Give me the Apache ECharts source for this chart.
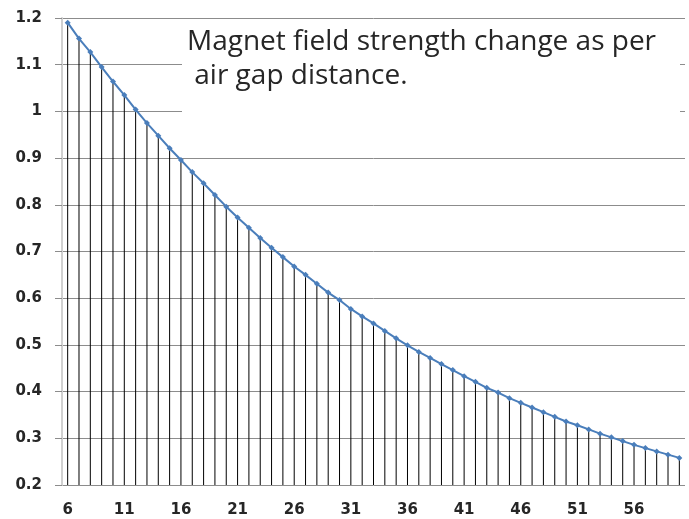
<!DOCTYPE html>
<html>
<head>
<meta charset="utf-8">
<script src="https://cdn.jsdelivr.net/npm/echarts@6/dist/echarts.min.js"></script>
<style>
  html, body { margin: 0; padding: 0; background: #fff; }
  #chart { width: 689px; height: 519px; }
</style>
</head>
<body>
<div id="chart"></div>
<script>
// air gap distance (categories 6..60)
const gapDistance = [];
for (let d = 6; d <= 60; d++) gapDistance.push(String(d));

// field strength
const fieldStrength = [
  1.190, 1.156, 1.127, 1.095, 1.064, 1.035, 1.004, 0.975, 0.948, 0.921,
  0.896, 0.870, 0.846, 0.821, 0.796, 0.773, 0.751, 0.729, 0.708, 0.688,
  0.668, 0.650, 0.631, 0.612, 0.596, 0.577, 0.561, 0.546, 0.530, 0.514,
  0.499, 0.485, 0.472, 0.459, 0.446, 0.433, 0.421, 0.408, 0.398, 0.386,
  0.376, 0.366, 0.356, 0.346, 0.336, 0.328, 0.319, 0.310, 0.302, 0.294,
  0.286, 0.279, 0.272, 0.265, 0.258
];

const titleLines = ["Magnet field strength change as per", " air gap distance."];

const LABEL_FONT = "'DejaVu Sans', 'Open Sans', sans-serif";

const chart = echarts.init(document.getElementById("chart"), null, { renderer: "canvas" });

chart.setOption({
  animation: false,
  backgroundColor: "#ffffff",
  grid: { left: 62, right: 4, top: 18, bottom: 34 },
  xAxis: {
    type: "category",
    data: gapDistance,
    boundaryGap: true,
    axisLine: { show: false },
    axisTick: { show: false },
    axisLabel: {
      interval: 4,
      margin: 18,
      color: "#262626",
      fontFamily: LABEL_FONT,
      fontWeight: "bold",
      fontSize: 15
    },
    splitLine: { show: false }
  },
  yAxis: {
    type: "value",
    min: 0.2,
    max: 1.2,
    interval: 0.1,
    axisLine: { show: true, lineStyle: { color: "#d0d0d0", width: 2 } },
    axisTick: { show: true, length: 7, lineStyle: { color: "#8c8c8c" } },
    axisLabel: {
      margin: 20,
      color: "#262626",
      fontFamily: LABEL_FONT,
      fontWeight: "bold",
      fontSize: 15
    },
    splitLine: { show: true, lineStyle: { color: "#8c8c8c", width: 1 } }
  },
  series: [
    {
      name: "drop",
      type: "bar",
      data: fieldStrength,
      barWidth: 1,
      barGap: "-100%",
      clip: true,
      silent: true,
      itemStyle: { color: "#000000" },
      z: 2
    },
    {
      name: "strength",
      type: "line",
      data: fieldStrength,
      symbol: "diamond",
      symbolSize: 6,
      showSymbol: true,
      lineStyle: { color: "#4a7ebb", width: 2 },
      itemStyle: { color: "#4a7ebb" },
      z: 3
    }
  ],
  graphic: [
    {
      type: "rect",
      left: 182,
      top: 24,
      shape: { width: 498, height: 92 },
      style: { fill: "#ffffff" },
      z: 10
    },
    {
      type: "text",
      left: 187,
      top: 25,
      style: {
        text: titleLines.join("\n"),
        fill: "#262626",
        font: "28px 'Open Sans', sans-serif",
        lineHeight: 34
      },
      z: 11
    }
  ]
});
</script>
</body>
</html>
